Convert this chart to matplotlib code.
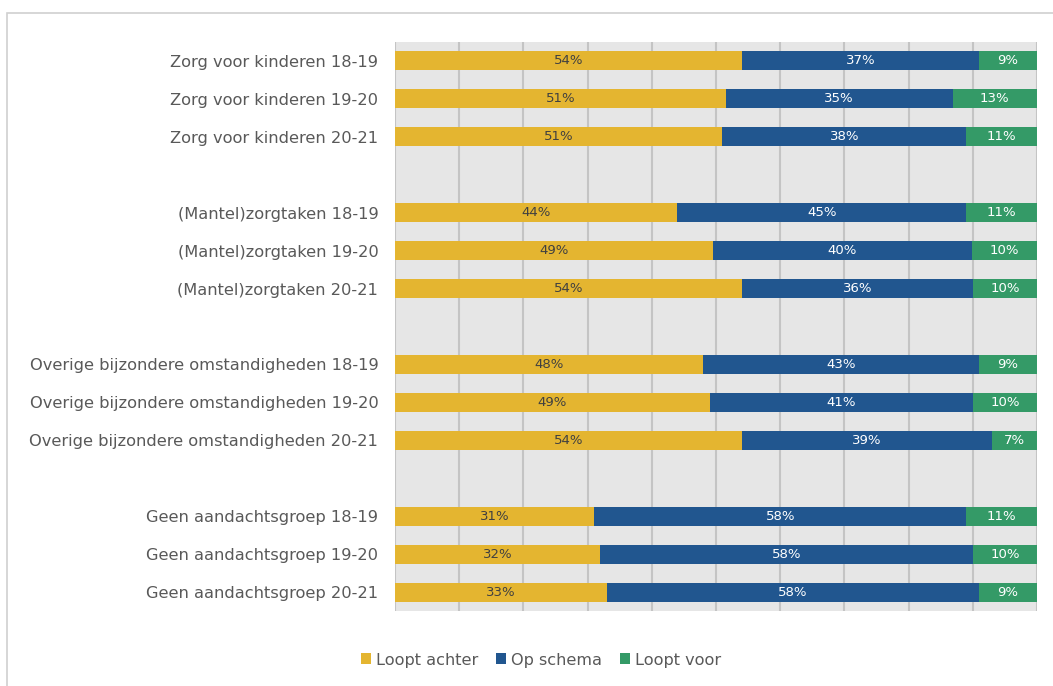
import matplotlib
matplotlib.use("Agg")
import matplotlib.pyplot as plt
import numpy as np
from matplotlib.patches import Rectangle

plt.rcParams['font.family'] = ['DejaVu Sans']

categories = [
    "Zorg voor kinderen 18-19",
    "Zorg voor kinderen 19-20",
    "Zorg voor kinderen 20-21",
    "",
    "(Mantel)zorgtaken 18-19",
    "(Mantel)zorgtaken 19-20",
    "(Mantel)zorgtaken 20-21",
    "",
    "Overige bijzondere omstandigheden 18-19",
    "Overige bijzondere omstandigheden 19-20",
    "Overige bijzondere omstandigheden 20-21",
    "",
    "Geen aandachtsgroep 18-19",
    "Geen aandachtsgroep 19-20",
    "Geen aandachtsgroep 20-21",
]
loopt_achter = [54, 51, 51, None, 44, 49, 54, None, 48, 49, 54, None, 31, 32, 33]
op_schema    = [37, 35, 38, None, 45, 40, 36, None, 43, 41, 39, None, 58, 58, 58]
loopt_voor   = [9, 13, 11, None, 11, 10, 10, None, 9, 10, 7, None, 11, 10, 9]

series_names = ["Loopt achter", "Op schema", "Loopt voor"]
colors = ["#E4B530", "#21568F", "#349A67"]
label_colors = ["#404040", "white", "white"]

W, H = 1053, 686
fig = plt.figure(figsize=(W / 100, H / 100), dpi=100)

# outer chart border
fig.patches.append(Rectangle((7 / W, -0.1), 1.2, 1 - 13 / H + 0.1,
                             transform=fig.transFigure, fill=False,
                             edgecolor="#D0D0D0", linewidth=1.2))

ax = fig.add_axes([395 / W, 1 - 611 / H, (1037 - 395) / W, (611 - 42) / H])
ax.set_facecolor("#E6E6E6")

n = len(categories)
y = np.arange(n)
data = [loopt_achter, op_schema, loopt_voor]
totals = np.array([sum((d[i] or 0) for d in data) for i in range(n)], dtype=float)
totals[totals == 0] = 1
left = np.zeros(n)
for s, (vals, col, lcol, name) in enumerate(zip(data, colors, label_colors, series_names)):
    v = np.array([x if x is not None else 0 for x in vals], dtype=float)
    share = v / totals * 100
    ax.barh(y, share, left=left, height=0.5, color=col, label=name, zorder=3)
    for i in range(n):
        if vals[i] is not None:
            ax.text(left[i] + share[i] / 2, y[i], f"{vals[i]}%", ha="center", va="center",
                    color=lcol, fontsize=9.5, zorder=4)
    left += share

ax.set_xlim(0, 100)
ax.set_ylim(n - 0.5, -0.5)
ax.set_xticks(np.arange(0, 101, 10))
ax.xaxis.grid(True, color="#C4C4C4", linewidth=1.5, zorder=0)
ax.set_axisbelow(True)
ax.tick_params(axis="x", length=0, labelbottom=False)
ax.set_yticks(y)
ax.set_yticklabels(categories, fontsize=11.7, color="#595959")
ax.tick_params(axis="y", length=0, pad=12)
for sp in ax.spines.values():
    sp.set_visible(False)

leg = fig.legend(loc="center", bbox_to_anchor=(541 / W, 1 - 660 / H), ncol=3,
                 frameon=False, fontsize=11.6, handlelength=0.65, handleheight=0.65,
                 handletextpad=0.3, columnspacing=1.1)
for t in leg.get_texts():
    t.set_color("#595959")

fig.savefig("out.png", dpi=100)
